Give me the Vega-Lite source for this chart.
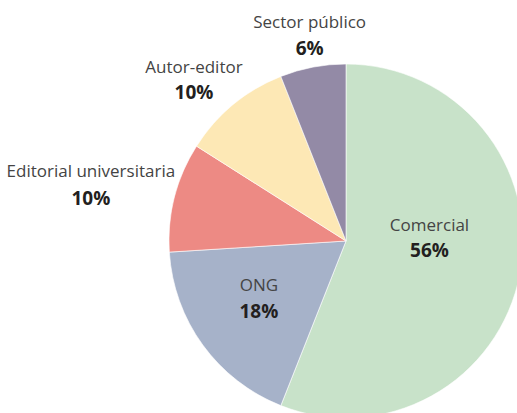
{
  "$schema": "https://vega.github.io/schema/vega-lite/v6.json",
  "width": 692,
  "height": 482,
  "autosize": "none",
  "padding": 0,
  "background": "white",
  "view": {"stroke": null},
  "data": {
    "values": [
      {"categoria": "Comercial", "valor": 56, "pct": "56%", "orden": 1},
      {"categoria": "ONG", "valor": 18, "pct": "18%", "orden": 2},
      {"categoria": "Editorial universitaria", "valor": 10, "pct": "10%", "orden": 3},
      {"categoria": "Autor-editor", "valor": 10, "pct": "10%", "orden": 4},
      {"categoria": "Sector público", "valor": 6, "pct": "6%", "orden": 5}
    ]
  },
  "encoding": {
    "theta": {"field": "valor", "type": "quantitative", "stack": true},
    "order": {"field": "orden", "type": "quantitative", "sort": "ascending"}
  },
  "layer": [
    {
      "mark": {"type": "arc", "outerRadius": 177, "stroke": "white", "strokeWidth": 0.6},
      "encoding": {
        "color": {
          "field": "categoria",
          "type": "nominal",
          "scale": {
            "domain": ["Comercial", "ONG", "Editorial universitaria", "Autor-editor", "Sector público"],
            "range": ["#c8e2c9", "#a6b2c9", "#ed8a84", "#fde8b5", "#938aa6"]
          },
          "legend": null
        }
      }
    },
    {
      "mark": {"type": "text", "radius": 85, "dy": -31, "font": "Open Sans", "fontSize": 17, "fill": "#444444", "baseline": "middle"},
      "encoding": {"text": {"condition": {"test": "datum.categoria === 'Comercial'", "field": "categoria"}, "value": ""}}
    },
    {
      "mark": {"type": "text", "radius": 85, "dy": -6, "font": "Open Sans", "fontSize": 19, "fontWeight": "bold", "fill": "#231f20", "baseline": "middle"},
      "encoding": {"text": {"condition": {"test": "datum.categoria === 'Comercial'", "field": "pct"}, "value": ""}}
    },
    {
      "mark": {"type": "text", "radius": 104, "dx": -3, "dy": -16, "font": "Open Sans", "fontSize": 17, "fill": "#444444", "baseline": "middle"},
      "encoding": {"text": {"condition": {"test": "datum.categoria === 'ONG'", "field": "categoria"}, "value": ""}}
    },
    {
      "mark": {"type": "text", "radius": 104, "dx": -3, "dy": 10, "font": "Open Sans", "fontSize": 19, "fontWeight": "bold", "fill": "#231f20", "baseline": "middle"},
      "encoding": {"text": {"condition": {"test": "datum.categoria === 'ONG'", "field": "pct"}, "value": ""}}
    },
    {
      "mark": {"type": "text", "radius": 250, "dx": -13, "dy": -7, "font": "Open Sans", "fontSize": 17, "fill": "#444444", "baseline": "middle"},
      "encoding": {"text": {"condition": {"test": "datum.categoria === 'Editorial universitaria'", "field": "categoria"}, "value": ""}}
    },
    {
      "mark": {"type": "text", "radius": 250, "dx": -13, "dy": 20, "font": "Open Sans", "fontSize": 19, "fontWeight": "bold", "fill": "#231f20", "baseline": "middle"},
      "encoding": {"text": {"condition": {"test": "datum.categoria === 'Editorial universitaria'", "field": "pct"}, "value": ""}}
    },
    {
      "mark": {"type": "text", "radius": 215, "dx": -15, "dy": -7, "font": "Open Sans", "fontSize": 17, "fill": "#444444", "baseline": "middle"},
      "encoding": {"text": {"condition": {"test": "datum.categoria === 'Autor-editor'", "field": "categoria"}, "value": ""}}
    },
    {
      "mark": {"type": "text", "radius": 215, "dx": -15, "dy": 18, "font": "Open Sans", "fontSize": 19, "fontWeight": "bold", "fill": "#231f20", "baseline": "middle"},
      "encoding": {"text": {"condition": {"test": "datum.categoria === 'Autor-editor'", "field": "pct"}, "value": ""}}
    },
    {
      "mark": {"type": "text", "radius": 210, "dx": 3, "dy": -12, "font": "Open Sans", "fontSize": 17, "fill": "#444444", "baseline": "middle"},
      "encoding": {"text": {"condition": {"test": "datum.categoria === 'Sector público'", "field": "categoria"}, "value": ""}}
    },
    {
      "mark": {"type": "text", "radius": 210, "dx": 3, "dy": 14, "font": "Open Sans", "fontSize": 19, "fontWeight": "bold", "fill": "#231f20", "baseline": "middle"},
      "encoding": {"text": {"condition": {"test": "datum.categoria === 'Sector público'", "field": "pct"}, "value": ""}}
    }
  ]
}
